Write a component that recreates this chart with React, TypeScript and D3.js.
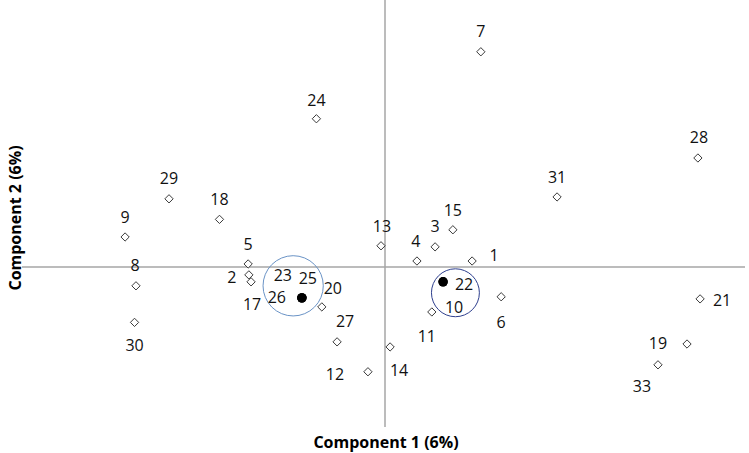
import React from "react";
import * as d3 from "d3";

// ---- data ----
const ids = ["1","2","3","4","5","6","7","8","9","10","11","12","13","14","15","17","18","19","20","21","22","23","24","25","26","27","28","29","30","31","33"];
const xValues = [0.240,-0.375,0.138,0.088,-0.377,0.320,0.264,-0.686,-0.716,0.160,0.129,-0.047,-0.011,0.014,0.187,-0.369,-0.456,0.832,-0.174,0.868,0.160,-0.229,-0.189,-0.229,-0.229,-0.132,0.862,-0.595,-0.690,0.474,0.752];
const yValues = [0.022,-0.030,0.075,0.022,0.011,-0.112,0.806,-0.071,0.112,-0.056,-0.169,-0.393,0.079,-0.300,0.139,-0.056,0.178,-0.289,-0.150,-0.120,-0.056,-0.116,0.555,-0.116,-0.116,-0.281,0.408,0.255,-0.208,0.262,-0.367];
// "group" points are drawn as filled dots (cluster centres)
const groupIds = ["10","22","23","25","26"];
// cluster circles: centre x, centre y, radius (data units on x scale)
const circleX = [-0.253, 0.194];
const circleY = [-0.071, -0.097];
const circleR = [0.083, 0.066];
const circleColors = ["#6a93c6", "#2e3f8e"];

const xTitle = "Component 1 (6%)";
const yTitle = "Component 2 (6%)";

// label offsets (layout, px)
const labelOffsets: Record<string, [number, number]> = {
  "1": [22, -6], "2": [-17, 2], "3": [0, -21], "4": [-1, -20], "5": [0, -20],
  "6": [0, 25], "7": [0, -21], "8": [-1, -21], "9": [0, -20], "10": [11, 25],
  "11": [-5, 24], "12": [-33, 2], "13": [1, -20], "14": [9, 23], "15": [0, -20],
  "17": [1, 22], "18": [0, -20], "19": [-29, -1], "20": [11, -19], "21": [22, 1],
  "22": [21, 2], "23": [-19, -23], "24": [0, -19], "25": [6, -20], "26": [-25, -1],
  "27": [8, -21], "28": [1, -21], "29": [0, -21], "30": [0, 23], "31": [0, -20],
  "33": [-16, 21],
};

const W = 749, H = 453;

export default function App() {
  const x = d3.scaleLinear().domain([-1, 1]).range([22, 748]);
  const y = d3.scaleLinear().domain([-0.6, 1]).range([427, 0]);
  const pxPerUnit = x(1) - x(0);
  const diamond = d3.symbol().type(d3.symbolDiamond2).size(44)();
  const fontFamily = "'Open Sans', Lato, sans-serif";

  return (
    <svg width={W} height={H} style={{ position: "absolute", left: 0, top: 0, background: "#fff" }}>
      {/* axes lines */}
      <line x1={22} x2={745} y1={y(0)} y2={y(0)} stroke="#a6a6a6" strokeWidth={1.5} />
      <line x1={x(0)} x2={x(0)} y1={0} y2={427} stroke="#a6a6a6" strokeWidth={1.5} />

      {/* circles */}
      {circleX.map((cx, i) => (
        <circle key={"c" + i} cx={x(cx)} cy={y(circleY[i])} r={circleR[i] * pxPerUnit}
          fill="none" stroke={circleColors[i]} strokeWidth={1} />
      ))}

      {/* points */}
      {ids.map((id, i) => {
        const px = x(xValues[i]);
        const py = y(yValues[i]);
        if (groupIds.includes(id)) {
          return <circle key={"p" + id} cx={px} cy={py} r={4.7} fill="#000" />;
        }
        return (
          <path key={"p" + id} d={diamond} transform={`translate(${px},${py})`}
            fill="#fff" stroke="#3a3a3a" strokeWidth={1} />
        );
      })}

      {/* labels */}
      {ids.map((id, i) => {
        const [dx, dy] = labelOffsets[id] || [0, -20];
        return (
          <text key={"l" + id} x={x(xValues[i]) + dx} y={y(yValues[i]) + dy}
            textAnchor="middle" dominantBaseline="central"
            fontFamily={fontFamily} fontSize={16} fill="#111">{id}</text>
        );
      })}

      {/* axis titles */}
      <text x={386} y={442} textAnchor="middle" dominantBaseline="central"
        fontFamily={fontFamily} fontWeight="bold" fontSize={16} fill="#000">{xTitle}</text>
      <text transform={`translate(15,218) rotate(-90)`} textAnchor="middle" dominantBaseline="central"
        fontFamily={fontFamily} fontWeight="bold" fontSize={16} fill="#000">{yTitle}</text>
    </svg>
  );
}
